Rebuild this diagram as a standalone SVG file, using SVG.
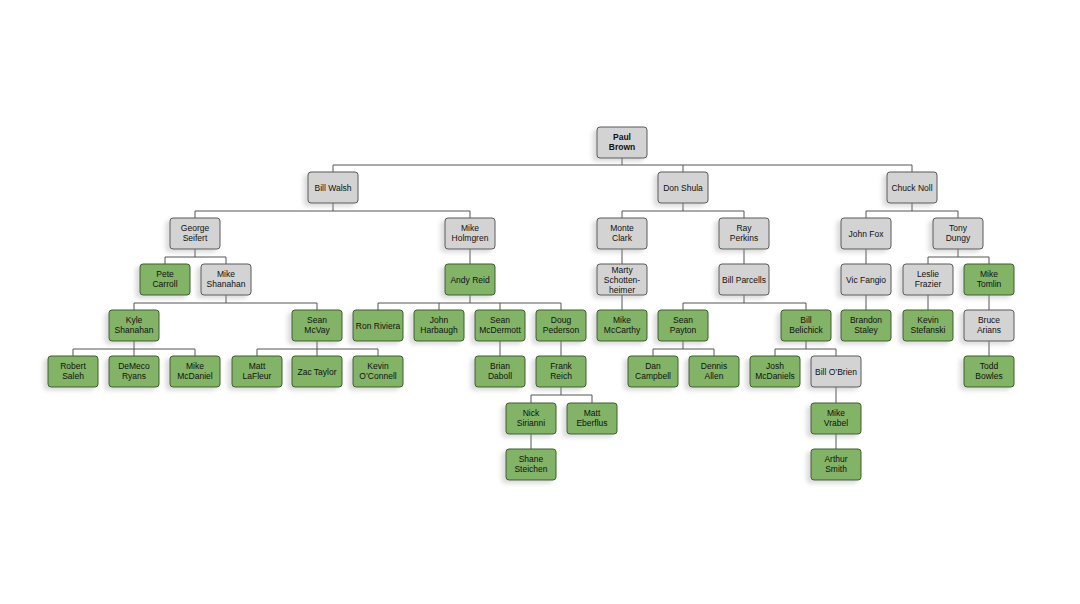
<svg xmlns="http://www.w3.org/2000/svg" width="1080" height="604" viewBox="0 0 1080 604">
<defs>
<filter id="sh" x="-30%" y="-30%" width="160%" height="160%"><feDropShadow dx="-4" dy="3" stdDeviation="2" flood-color="#999" flood-opacity="0.35"/></filter>
</defs>
<style>
.g rect{fill:#d3d3d3;stroke:#5a5a5a;stroke-width:1;filter:url(#sh)}
.v rect{fill:#82b366;stroke:#3d5e2a;stroke-width:1;filter:url(#sh)}
text{font-family:"Liberation Sans",Arial,sans-serif;font-size:8.5px;fill:#111;text-anchor:middle}
.c path{fill:none;stroke:#555;stroke-width:1}
</style>
<rect width="1080" height="604" fill="#fff"/>
<g class="c">
<path d="M622 158V165M333 165H912M333 165V172M683 165V172M912 165V172"/>
<path d="M333 203V211M195 211H470M195 211V218M470 211V218"/>
<path d="M195 249V257M165 257H226M165 257V264M226 257V264"/>
<path d="M226 295V303M134 303H317M134 303V310M317 303V310"/>
<path d="M134 341V349M73 349H195M73 349V356M134 349V356M195 349V356"/>
<path d="M317 341V349M257 349H378M257 349V356M317 349V356M378 349V356"/>
<path d="M470 249V264"/>
<path d="M470 295V303M378 303H561M378 303V310M439 303V310M500 303V310M561 303V310"/>
<path d="M500 341V356M561 341V356"/>
<path d="M561 387V395M531 395H592M531 395V403M592 395V403"/>
<path d="M531 434V449"/>
<path d="M683 203V211M622 211H744M622 211V218M744 211V218"/>
<path d="M622 249V264M622 295V310M744 249V264"/>
<path d="M744 295V303M683 303H806M683 303V310M806 303V310"/>
<path d="M683 341V349M653 349H714M653 349V356M714 349V356"/>
<path d="M806 341V349M775 349H836M775 349V356M836 349V356"/>
<path d="M836 387V403M836 434V449"/>
<path d="M912 203V211M866 211H958M866 211V218M958 211V218"/>
<path d="M866 249V264M866 295V310"/>
<path d="M958 249V257M928 257H989M928 257V264M989 257V264"/>
<path d="M928 295V310M989 295V310M989 341V356"/>
</g>
<g id="paul-brown" class="g"><rect x="597" y="127" width="50" height="31" rx="3"/><text x="622" y="140" font-weight="bold">Paul</text><text x="622" y="150" font-weight="bold">Brown</text></g>
<g id="bill-walsh" class="g"><rect x="308" y="172" width="50" height="31" rx="3"/><text x="333" y="190.5">Bill Walsh</text></g>
<g id="don-shula" class="g"><rect x="658" y="172" width="50" height="31" rx="3"/><text x="683" y="190.5">Don Shula</text></g>
<g id="chuck-noll" class="g"><rect x="887" y="172" width="50" height="31" rx="3"/><text x="912" y="190.5">Chuck Noll</text></g>
<g id="george-seifert" class="g"><rect x="170" y="218" width="50" height="31" rx="3"/><text x="195" y="231">George</text><text x="195" y="241">Seifert</text></g>
<g id="mike-holmgren" class="g"><rect x="445" y="218" width="50" height="31" rx="3"/><text x="470" y="231">Mike</text><text x="470" y="241">Holmgren</text></g>
<g id="monte-clark" class="g"><rect x="597" y="218" width="50" height="31" rx="3"/><text x="622" y="231">Monte</text><text x="622" y="241">Clark</text></g>
<g id="ray-perkins" class="g"><rect x="719" y="218" width="50" height="31" rx="3"/><text x="744" y="231">Ray</text><text x="744" y="241">Perkins</text></g>
<g id="john-fox" class="g"><rect x="841" y="218" width="50" height="31" rx="3"/><text x="866" y="236.5">John Fox</text></g>
<g id="tony-dungy" class="g"><rect x="933" y="218" width="50" height="31" rx="3"/><text x="958" y="231">Tony</text><text x="958" y="241">Dungy</text></g>
<g id="pete-carroll" class="v"><rect x="140" y="264" width="50" height="31" rx="3"/><text x="165" y="277">Pete</text><text x="165" y="287">Carroll</text></g>
<g id="mike-shanahan" class="g"><rect x="201" y="264" width="50" height="31" rx="3"/><text x="226" y="277">Mike</text><text x="226" y="287">Shanahan</text></g>
<g id="andy-reid" class="v"><rect x="445" y="264" width="50" height="31" rx="3"/><text x="470" y="282.5">Andy Reid</text></g>
<g id="marty-schottenheimer" class="g"><rect x="597" y="264" width="50" height="31" rx="3"/><text x="622" y="273">Marty</text><text x="622" y="283">Schotten-</text><text x="622" y="293">heimer</text></g>
<g id="bill-parcells" class="g"><rect x="719" y="264" width="50" height="31" rx="3"/><text x="744" y="282.5">Bill Parcells</text></g>
<g id="vic-fangio" class="g"><rect x="841" y="264" width="50" height="31" rx="3"/><text x="866" y="282.5">Vic Fangio</text></g>
<g id="leslie-frazier" class="g"><rect x="903" y="264" width="50" height="31" rx="3"/><text x="928" y="277">Leslie</text><text x="928" y="287">Frazier</text></g>
<g id="mike-tomlin" class="v"><rect x="964" y="264" width="50" height="31" rx="3"/><text x="989" y="277">Mike</text><text x="989" y="287">Tomlin</text></g>
<g id="kyle-shanahan" class="v"><rect x="109" y="310" width="50" height="31" rx="3"/><text x="134" y="323">Kyle</text><text x="134" y="333">Shanahan</text></g>
<g id="sean-mcvay" class="v"><rect x="292" y="310" width="50" height="31" rx="3"/><text x="317" y="323">Sean</text><text x="317" y="333">McVay</text></g>
<g id="ron-riviera" class="v"><rect x="353" y="310" width="50" height="31" rx="3"/><text x="378" y="328.5">Ron Riviera</text></g>
<g id="john-harbaugh" class="v"><rect x="414" y="310" width="50" height="31" rx="3"/><text x="439" y="323">John</text><text x="439" y="333">Harbaugh</text></g>
<g id="sean-mcdermott" class="v"><rect x="475" y="310" width="50" height="31" rx="3"/><text x="500" y="323" font-size="7">Sean</text><text x="500" y="333" font-size="7">McDermott</text></g>
<g id="doug-pederson" class="v"><rect x="536" y="310" width="50" height="31" rx="3"/><text x="561" y="323">Doug</text><text x="561" y="333">Pederson</text></g>
<g id="mike-mccarthy" class="v"><rect x="597" y="310" width="50" height="31" rx="3"/><text x="622" y="323">Mike</text><text x="622" y="333">McCarthy</text></g>
<g id="sean-payton" class="v"><rect x="658" y="310" width="50" height="31" rx="3"/><text x="683" y="323">Sean</text><text x="683" y="333">Payton</text></g>
<g id="bill-belichick" class="v"><rect x="781" y="310" width="50" height="31" rx="3"/><text x="806" y="323">Bill</text><text x="806" y="333">Belichick</text></g>
<g id="brandon-staley" class="v"><rect x="841" y="310" width="50" height="31" rx="3"/><text x="866" y="323">Brandon</text><text x="866" y="333">Staley</text></g>
<g id="kevin-stefanski" class="v"><rect x="903" y="310" width="50" height="31" rx="3"/><text x="928" y="323">Kevin</text><text x="928" y="333">Stefanski</text></g>
<g id="bruce-arians" class="g"><rect x="964" y="310" width="50" height="31" rx="3"/><text x="989" y="323">Bruce</text><text x="989" y="333">Arians</text></g>
<g id="robert-saleh" class="v"><rect x="48" y="356" width="50" height="31" rx="3"/><text x="73" y="369">Robert</text><text x="73" y="379">Saleh</text></g>
<g id="demeco-ryans" class="v"><rect x="109" y="356" width="50" height="31" rx="3"/><text x="134" y="369">DeMeco</text><text x="134" y="379">Ryans</text></g>
<g id="mike-mcdaniel" class="v"><rect x="170" y="356" width="50" height="31" rx="3"/><text x="195" y="369">Mike</text><text x="195" y="379">McDaniel</text></g>
<g id="matt-lafleur" class="v"><rect x="232" y="356" width="50" height="31" rx="3"/><text x="257" y="369">Matt</text><text x="257" y="379">LaFleur</text></g>
<g id="zac-taylor" class="v"><rect x="292" y="356" width="50" height="31" rx="3"/><text x="317" y="374.5">Zac Taylor</text></g>
<g id="kevin-oconnell" class="v"><rect x="353" y="356" width="50" height="31" rx="3"/><text x="378" y="369">Kevin</text><text x="378" y="379">O’Connell</text></g>
<g id="brian-daboll" class="v"><rect x="475" y="356" width="50" height="31" rx="3"/><text x="500" y="369">Brian</text><text x="500" y="379">Daboll</text></g>
<g id="frank-reich" class="v"><rect x="536" y="356" width="50" height="31" rx="3"/><text x="561" y="369">Frank</text><text x="561" y="379">Reich</text></g>
<g id="dan-campbell" class="v"><rect x="628" y="356" width="50" height="31" rx="3"/><text x="653" y="369">Dan</text><text x="653" y="379">Campbell</text></g>
<g id="dennis-allen" class="v"><rect x="689" y="356" width="50" height="31" rx="3"/><text x="714" y="369">Dennis</text><text x="714" y="379">Allen</text></g>
<g id="josh-mcdaniels" class="v"><rect x="750" y="356" width="50" height="31" rx="3"/><text x="775" y="369">Josh</text><text x="775" y="379">McDaniels</text></g>
<g id="bill-obrien" class="g"><rect x="811" y="356" width="50" height="31" rx="3"/><text x="836" y="374.5">Bill O’Brien</text></g>
<g id="todd-bowles" class="v"><rect x="964" y="356" width="50" height="31" rx="3"/><text x="989" y="369">Todd</text><text x="989" y="379">Bowles</text></g>
<g id="nick-sirianni" class="v"><rect x="506" y="403" width="50" height="31" rx="3"/><text x="531" y="416">Nick</text><text x="531" y="426">Sirianni</text></g>
<g id="matt-eberflus" class="v"><rect x="567" y="403" width="50" height="31" rx="3"/><text x="592" y="416">Matt</text><text x="592" y="426">Eberflus</text></g>
<g id="mike-vrabel" class="v"><rect x="811" y="403" width="50" height="31" rx="3"/><text x="836" y="416">Mike</text><text x="836" y="426">Vrabel</text></g>
<g id="shane-steichen" class="v"><rect x="506" y="449" width="50" height="31" rx="3"/><text x="531" y="462">Shane</text><text x="531" y="472">Steichen</text></g>
<g id="arthur-smith" class="v"><rect x="811" y="449" width="50" height="31" rx="3"/><text x="836" y="462">Arthur</text><text x="836" y="472">Smith</text></g>
</svg>
